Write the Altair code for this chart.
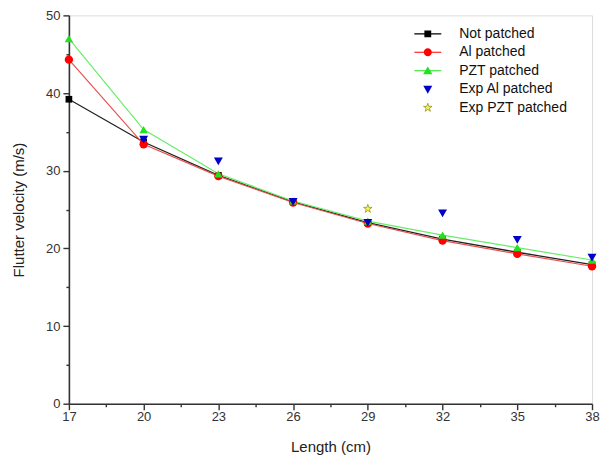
import altair as alt
import pandas as pd

# ---- data ----
lengths = [17, 20, 23, 26, 29, 32, 35, 38]
not_patched = [39.2, 33.7, 29.4, 26.0, 23.3, 21.2, 19.5, 17.9]
al_patched = [44.3, 33.4, 29.3, 25.9, 23.2, 21.0, 19.3, 17.7]
pzt_patched = [47.0, 35.3, 29.6, 26.1, 23.5, 21.7, 20.1, 18.5]
exp_al_lengths = [20, 23, 26, 29, 32, 35, 38]
exp_al = [34.0, 31.2, 26.0, 23.3, 24.5, 21.1, 18.8]
exp_pzt_lengths = [29]
exp_pzt = [25.1]

series_names = ["Not patched", "Al patched", "PZT patched", "Exp Al patched", "Exp PZT patched"]
series_colors = ["#000000", "#ff0000", "#22e022", "#0000c8", "#f2f266"]
series_strokes = ["transparent", "transparent", "transparent", "transparent", "#8a8a00"]

FONT = "Liberation Sans"

rows = []
for x, y in zip(lengths, not_patched):
    rows.append({"series": "Not patched", "length": x, "v": y})
for x, y in zip(lengths, al_patched):
    rows.append({"series": "Al patched", "length": x, "v": y})
for x, y in zip(lengths, pzt_patched):
    rows.append({"series": "PZT patched", "length": x, "v": y})
for x, y in zip(exp_al_lengths, exp_al):
    rows.append({"series": "Exp Al patched", "length": x, "v": y})
for x, y in zip(exp_pzt_lengths, exp_pzt):
    rows.append({"series": "Exp PZT patched", "length": x, "v": y})
df = pd.DataFrame(rows)

x_values = [17 + 1.5 * i for i in range(15)]
y_values = [5 * i for i in range(11)]

x_enc = alt.X(
    "length:Q",
    scale=alt.Scale(domain=[17, 38], nice=False, zero=False),
    axis=alt.Axis(
        title="Length (cm)",
        values=x_values,
        labelExpr="(datum.value - 17) % 3 === 0 ? datum.label : ''",
        tickSize={"condition": {"test": "(datum.value - 17) % 3 === 0", "value": 6}, "value": 3},
        grid=False,
        domainColor="#333333",
        domainWidth=1.6,
        tickColor="#333333",
        tickWidth=1.4,
        labelFont=FONT,
        labelFontSize=13,
        labelColor="#333333",
        labelPadding=1,
        labelOverlap=False,
        labelFlush=False,
        labelBound=False,
        titleFont=FONT,
        titleFontSize=15,
        titleFontWeight="normal",
        titleColor="#222222",
        titlePadding=16,
    ),
)
y_enc = alt.Y(
    "v:Q",
    scale=alt.Scale(domain=[0, 50], nice=False),
    axis=alt.Axis(
        title="Flutter velocity (m/s)",
        values=y_values,
        labelExpr="datum.value % 10 === 0 ? datum.label : ''",
        tickSize={"condition": {"test": "datum.value % 10 === 0", "value": 6}, "value": 3},
        grid=False,
        domainColor="#333333",
        domainWidth=1.6,
        tickColor="#333333",
        tickWidth=1.4,
        labelFont=FONT,
        labelFontSize=13,
        labelColor="#333333",
        labelPadding=3,
        labelFlush=False,
        titleFont=FONT,
        titleFontSize=15,
        titleFontWeight="normal",
        titleColor="#222222",
        titlePadding=19,
    ),
)

base = alt.Chart(df)


def line_layer(name, color, width=1.3):
    return base.transform_filter(alt.datum.series == name).mark_line(
        color=color, strokeWidth=width
    ).encode(x=x_enc, y=y_enc)


def point_layer(name, shape, color, size, stroke=None):
    kw = dict(shape=shape, fill=color, filled=True, size=size, opacity=1)
    if stroke:
        kw.update(stroke=stroke, strokeWidth=0.7)
    else:
        kw.update(strokeWidth=0)
    return base.transform_filter(alt.datum.series == name).mark_point(**kw).encode(x=x_enc, y=y_enc)


STAR = ("M0,-1L0.2245,-0.309L0.951,-0.309L0.363,0.118L0.588,0.809L0,0.382"
        "L-0.588,0.809L-0.363,0.118L-0.951,-0.309L-0.2245,-0.309Z")

layers = [
    line_layer("Not patched", "#222222", 1.3),
    point_layer("Not patched", "square", "#000000", 45),
    line_layer("Al patched", "#e85050", 1.2),
    line_layer("PZT patched", "#66ee66", 1.2),
    point_layer("Al patched", "circle", "#ff0000", 70),
    point_layer("PZT patched", "triangle-up", "#22e022", 70),
    point_layer("Exp Al patched", "triangle-down", "#0000c8", 80),
    point_layer("Exp PZT patched", STAR, "#f2f266", 80, stroke="#8a8a00"),
]

# legend symbols: line + marker combined custom paths
LINE = "M-1.5,-0.06H1.5V0.06H-1.5Z"
legend_shapes = [
    LINE + "M-0.38,-0.38H0.38V0.38H-0.38Z",
    LINE + "M-0.45,0A0.45,0.45 0 1,1 0.45,0A0.45,0.45 0 1,1 -0.45,0Z",
    LINE + "M0,-0.48L0.52,0.4L-0.52,0.4Z",
    "M-0.5,-0.4L0.5,-0.4L0,0.5Z",
    "M0,-0.5L0.112,-0.155L0.476,-0.155L0.182,0.059L0.294,0.405L0,0.191"
    "L-0.294,0.405L-0.182,0.059L-0.476,-0.155L-0.112,-0.155Z",
]

legend_layer = base.transform_filter("false").mark_point(filled=True, opacity=1, strokeWidth=0.7).encode(
    x=x_enc,
    y=y_enc,
    color=alt.Color(
        "series:N",
        scale=alt.Scale(domain=series_names, range=series_colors),
        legend=alt.Legend(
            title=None,
            orient="none",
            legendX=350,
            legendY=9,
            padding=0,
            symbolSize=324,
            symbolStrokeWidth=0.7,
            symbolOpacity=1,
            labelFont=FONT,
            labelFontSize=14,
            labelColor="#111111",
            labelOffset=22,
            rowPadding=1.5,
        ),
    ),
    stroke=alt.Stroke(
        "series:N",
        scale=alt.Scale(domain=series_names, range=series_strokes),
        legend=None,
    ),
    shape=alt.Shape(
        "series:N",
        scale=alt.Scale(domain=series_names, range=legend_shapes),
        legend=None,
    ),
)

chart = alt.layer(*layers, legend_layer).properties(
    width=524,
    height=389,
    padding={"left": 61, "top": 7, "right": 8, "bottom": 56},
    autosize=alt.AutoSizeParams(type="none"),
).configure_view(stroke=None).configure(background="white")

chart.save("out.html", embed_options={"renderer": "svg", "actions": False})
